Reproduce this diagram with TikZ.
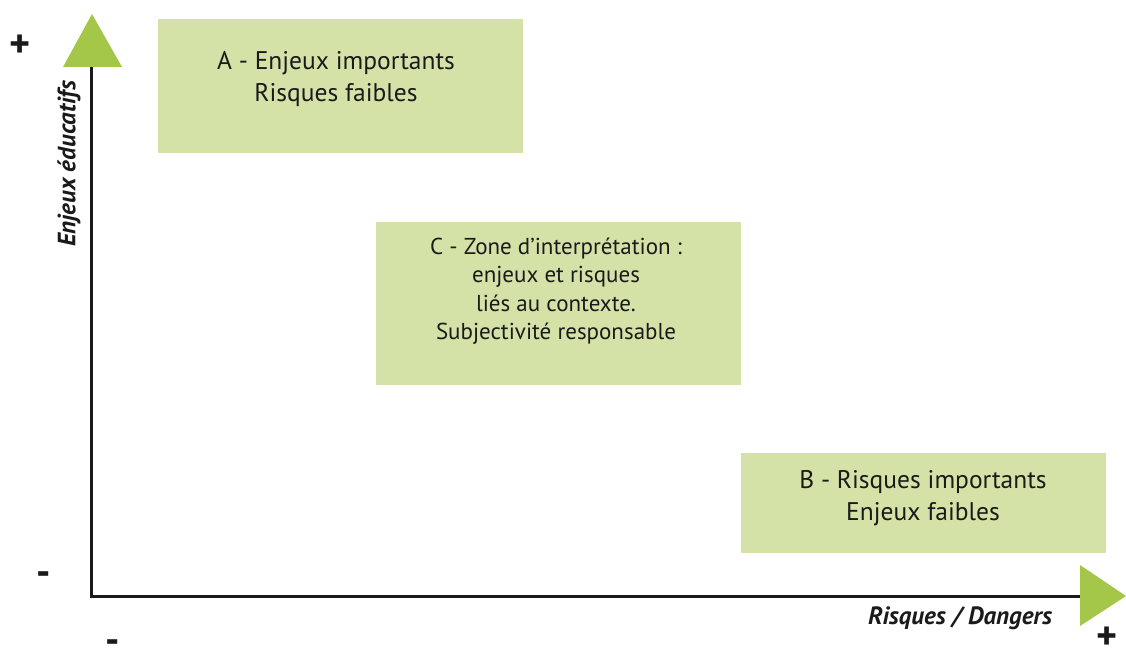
\documentclass[tikz,border=0pt]{standalone}
\usepackage{fontspec}
\setmainfont{PT Sans}
\definecolor{boxgreen}{HTML}{D5E2A7}
\definecolor{trigreen}{HTML}{A4C649}
\definecolor{ink}{HTML}{1A1A1A}
\begin{document}
\begin{tikzpicture}[x=1pt,y=-1pt,
  zonetext/.style={align=center,font=\fontsize{25.5}{32}\selectfont,text=ink},
  axislabel/.style={font=\fontsize{25}{28}\selectfont\bfseries\itshape,text=ink,inner sep=0pt},
  signlabel/.style={font=\fontsize{40}{40}\selectfont\bfseries,text=ink,inner sep=0pt},
  axisline/.style={line width=3pt,draw=ink}]
\useasboundingbox (0,0) rectangle (1126,650);
% zones
\fill[boxgreen] (158,19) rectangle (523,153);
\node[zonetext] (A) at (336,79) {A - Enjeux importants\\Risques faibles};
\fill[boxgreen] (376,222) rectangle (741,385);
\node[zonetext,font=\fontsize{23}{28.5}\selectfont] (C) at (556,291) {C - Zone d’interprétation :\\enjeux et risques\\liés au contexte.\\Subjectivité responsable};
\fill[boxgreen] (741,453) rectangle (1106,553);
\node[zonetext] (B) at (923,498) {B - Risques importants\\Enjeux faibles};
% axes
\coordinate (O) at (91,596);
\coordinate (Ytop) at (91,66);
\coordinate (Xend) at (1081,596);
\draw[axisline] (Ytop) -- (O) -- (Xend);
\fill[trigreen] (63,67) -- (92,14) -- (122,67) -- cycle;
\fill[trigreen] (1080,565) -- (1126,596) -- (1080,626) -- cycle;
% labels
\node[axislabel,rotate=90] (ylab) at (69,164) {Enjeux éducatifs};
\node[axislabel] (xlab) at (960,618) {Risques / Dangers};
\node[signlabel] (yplus) at (20,46) {+};
\node[signlabel] (yminus) at (44,579) {-};
\node[signlabel] (xminus) at (113,647) {-};
\node[signlabel] (xplus) at (1107,638) {+};
\end{tikzpicture}
\end{document}
